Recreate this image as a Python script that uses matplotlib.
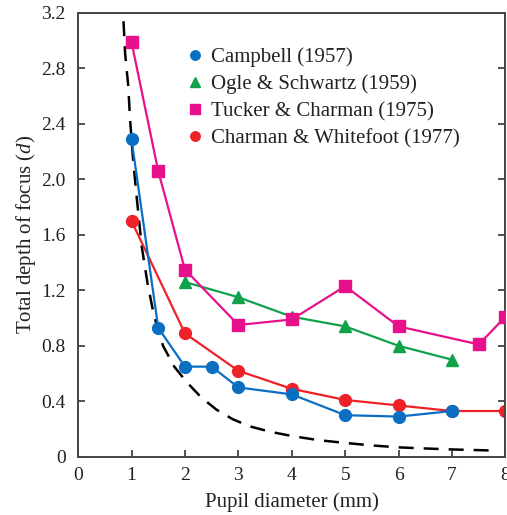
import numpy as np
import matplotlib
matplotlib.use("Agg")
import matplotlib.pyplot as plt

plt.rcParams['font.family'] = ['Liberation Serif', 'DejaVu Serif']
plt.rcParams['mathtext.fontset'] = 'custom'
plt.rcParams['mathtext.it'] = 'Liberation Serif:italic'
plt.rcParams['mathtext.rm'] = 'Liberation Serif'

# Campbell (1957)
campbell_x = [1, 1.5, 2, 2.5, 3, 4, 5, 6, 7]
campbell_y = [2.29, 0.93, 0.65, 0.65, 0.50, 0.45, 0.30, 0.29, 0.33]

# Ogle & Schwartz (1959)
ogle_x = [2, 3, 4, 5, 6, 7]
ogle_y = [1.26, 1.15, 1.01, 0.94, 0.80, 0.70]

# Tucker & Charman (1975)
tucker_x = [1, 1.5, 2, 3, 4, 5, 6, 7.5, 8]
tucker_y = [2.99, 2.06, 1.35, 0.95, 0.99, 1.23, 0.94, 0.81, 1.01]

# Charman & Whitefoot (1977)
charman_x = [1, 2, 3, 4, 5, 6, 7, 8]
charman_y = [1.70, 0.89, 0.62, 0.49, 0.41, 0.37, 0.33, 0.33]

# dashed curve
kurva_x = [0.85, 0.88, 0.94, 0.97, 1.03, 1.10, 1.19, 1.30, 1.42, 1.59, 1.80, 2.03,
           2.30, 2.59, 2.90, 3.21, 3.60, 4.0, 4.5, 5.0, 5.5, 6.0, 6.5, 7.0, 7.7]
kurva_y = [3.14, 2.91, 2.67, 2.45, 2.14, 1.86, 1.52, 1.25, 1.02, 0.80, 0.65, 0.54,
           0.43, 0.34, 0.27, 0.22, 0.18, 0.15, 0.12, 0.10, 0.082, 0.068, 0.060, 0.053, 0.046]

modra = '#0a6fc2'
zelena = '#0fa24b'
ruzova = '#e8118c'
cervena = '#ee2128'

fig = plt.figure(figsize=(5.07, 5.15), dpi=100)
ax = fig.add_axes([0.154, 0.113, 0.843, 0.862])

ax.plot(kurva_x, kurva_y, color='black', lw=1.8, dashes=(6, 4), zorder=1)
l_red, = ax.plot(charman_x, charman_y, '-o', color=cervena, lw=1.6, ms=8.5, zorder=2,
                 label='Charman & Whitefoot (1977)')
l_green, = ax.plot(ogle_x, ogle_y, '-^', color=zelena, lw=1.6, ms=9, zorder=3,
                   label='Ogle & Schwartz (1959)')
l_mag, = ax.plot(tucker_x, tucker_y, '-s', color=ruzova, lw=1.6, ms=8.5, zorder=4,
                 label='Tucker & Charman (1975)')
l_blue, = ax.plot(campbell_x, campbell_y, '-o', color=modra, lw=1.6, ms=8.5, zorder=5,
                  label='Campbell (1957)')

ax.set_xlim(0, 8)
ax.set_ylim(0, 3.2)
ax.set_xticks(range(0, 9))
ax.set_yticks([0, 0.4, 0.8, 1.2, 1.6, 2.0, 2.4, 2.8, 3.2])
ax.set_yticklabels(['0', '0.4', '0.8', '1.2', '1.6', '2.0', '2.4', '2.8', '3.2'])
ax.tick_params(direction='in', length=5, width=1.2, colors='#333333', labelsize=14,
               right=True, labelcolor='#222222')
ax.tick_params(axis='x', pad=7)
ax.tick_params(axis='y', pad=9)
for s in ax.spines.values():
    s.set_color('#444444')
    s.set_linewidth(1.4)

ax.set_xlabel('Pupil diameter (mm)', fontsize=15, color='#222222', labelpad=6)
ax.set_ylabel('Total depth of focus ($d$)', fontsize=15, color='#222222', labelpad=2)

leg = ax.legend(handles=[l_blue, l_green, l_mag, l_red], loc='upper left',
                bbox_to_anchor=(0.215, 0.965), frameon=False, fontsize=15,
                handlelength=0.6, handletextpad=0.45, labelspacing=0.36, markerscale=0.8)
for h in leg.legend_handles:
    h.set_linestyle('none')
for t in leg.get_texts():
    t.set_color('#222222')

fig.savefig('out.png', dpi=100)
